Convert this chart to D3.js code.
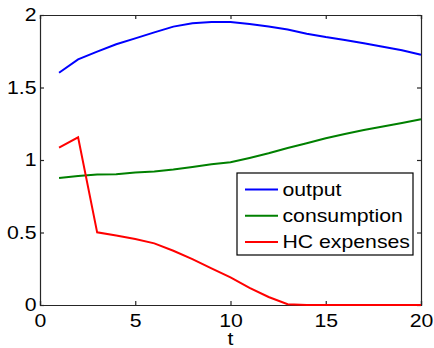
<!DOCTYPE html>
<html>
<head>
  <meta charset="utf-8">
  <script src="https://d3js.org/d3.v7.min.js"></script>
  <style>
    body { margin: 0; background: #fff; }
    svg text { font-family: "Liberation Sans", Arial, sans-serif; font-size: 18px; fill: #000; }
    .axis path, .axis line { stroke: #262626; stroke-width: 1.2px; }
    .series { fill: none; stroke-width: 2px; }
  </style>
</head>
<body>
  <svg width="434" height="348"></svg>
  <script>
    const t = d3.range(1, 21);
    const output = [1.602, 1.694, 1.747, 1.798, 1.839, 1.880, 1.920, 1.943, 1.952, 1.952,
                    1.938, 1.920, 1.900, 1.871, 1.848, 1.828, 1.805, 1.781, 1.757, 1.726];
    const consumption = [0.876, 0.890, 0.900, 0.902, 0.913, 0.921, 0.934, 0.952, 0.970, 0.985,
                         1.014, 1.046, 1.083, 1.115, 1.150, 1.179, 1.207, 1.231, 1.255, 1.281];
    const hcExpenses = [1.085, 1.156, 0.501, 0.480, 0.455, 0.425, 0.374, 0.317, 0.253, 0.190,
                        0.118, 0.055, 0.005, 0, 0, 0, 0, 0, 0, 0];
    const seriesNames = ["output", "consumption", "HC expenses"];
    const seriesColors = ["#0000ff", "#008000", "#ff0000"];
    const xTicks = [0, 5, 10, 15, 20];
    const yTicks = [0, 0.5, 1, 1.5, 2];

    const svg = d3.select("svg");
    const m = { left: 40, right: 421, top: 15, bottom: 305 };
    const sx = 1.18; // glyphs in the picture are a bit wide

    const x = d3.scaleLinear().domain([0, 20]).range([m.left, m.right]);
    const y = d3.scaleLinear().domain([0, 2]).range([m.bottom, m.top]);

    // box and inward ticks
    svg.append("g").attr("class", "axis")
      .attr("transform", `translate(0,${m.bottom})`)
      .call(d3.axisBottom(x).tickValues(xTicks).tickFormat(d3.format("d")).tickSize(-4).tickPadding(9));
    svg.append("g").attr("class", "axis")
      .attr("transform", `translate(0,${m.top})`)
      .call(d3.axisTop(x).tickValues(xTicks).tickFormat("").tickSize(-4));
    svg.append("g").attr("class", "axis")
      .attr("transform", `translate(${m.left},0)`)
      .call(d3.axisLeft(y).tickValues(yTicks).tickFormat(d => String(d)).tickSize(-4).tickPadding(3));
    svg.append("g").attr("class", "axis")
      .attr("transform", `translate(${m.right},0)`)
      .call(d3.axisRight(y).tickValues(yTicks).tickFormat("").tickSize(-4));

    svg.selectAll(".axis").attr("font-size", null).attr("font-family", null);
    svg.selectAll(".axis .tick text").attr("transform", `scale(${sx},1)`);

    svg.append("text")
      .attr("transform", `translate(${(m.left + m.right) / 2},345) scale(${sx},1)`)
      .attr("text-anchor", "middle")
      .text("t");

    const data = [output, consumption, hcExpenses];
    const line = d3.line().x((d, i) => x(t[i])).y(d => y(d));

    svg.selectAll(".series").data(data).join("path")
      .attr("class", "series")
      .attr("stroke", (d, i) => seriesColors[i])
      .attr("d", line);

    // legend
    const lg = svg.append("g");
    lg.append("rect")
      .attr("x", 237).attr("y", 173).attr("width", 176).attr("height", 82)
      .attr("fill", "#fff").attr("stroke", "#000").attr("stroke-width", 1.2);
    seriesNames.forEach((name, i) => {
      const ly = 189.5 + i * 26.2;
      lg.append("line")
        .attr("x1", 245).attr("x2", 278).attr("y1", ly).attr("y2", ly)
        .attr("stroke", seriesColors[i]).attr("stroke-width", 2);
      lg.append("text")
        .attr("transform", `translate(282.5,${ly + 6.4}) scale(${sx},1)`)
        .text(name);
    });
  </script>
</body>
</html>
